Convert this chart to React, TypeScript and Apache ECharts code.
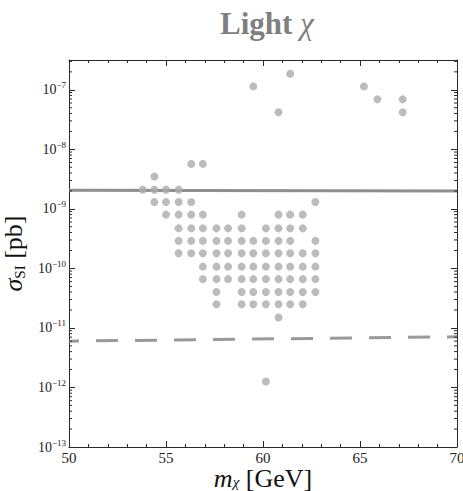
import React, { useEffect, useRef } from "react";
import * as echarts from "echarts";

// ---- Data ----
const xTicks = [50, 55, 60, 65, 70];
const yDecades = [-13, -12, -11, -10, -9, -8, -7];

// scatter points grouped by rows of equal sigma_SI [pb]
const rowSigma = [
  1.86e-7, 1.14e-7, 6.9e-8, 4.2e-8, 5.7e-9, 3.5e-9, 2.1e-9, 1.3e-9, 8.0e-10,
  4.7e-10, 2.9e-10, 1.8e-10, 1.07e-10, 6.6e-11, 4.0e-11, 2.5e-11, 1.5e-11,
  1.26e-12,
];
const rowMass = [
  [61.4],
  [59.5, 65.2],
  [65.9, 67.2],
  [60.8, 67.2],
  [56.3, 56.9],
  [54.4],
  [53.8, 54.4, 55.0, 55.65],
  [54.4, 55.0, 55.65, 56.3, 62.7],
  [55.0, 55.65, 56.3, 56.9, 58.9, 60.8, 61.4, 62.05],
  [55.65, 56.3, 56.9, 57.6, 58.2, 58.9, 60.15, 60.8, 61.4, 62.05],
  [55.65, 56.3, 56.9, 57.6, 58.2, 58.9, 59.5, 60.15, 60.8, 61.4, 62.7],
  [55.65, 56.3, 56.9, 57.6, 58.2, 58.9, 59.5, 60.15, 60.8, 61.4, 62.05, 62.7],
  [56.9, 57.6, 58.2, 58.9, 59.5, 60.15, 60.8, 61.4, 62.05, 62.7],
  [56.9, 57.6, 58.2, 58.9, 59.5, 60.15, 60.8, 61.4, 62.05, 62.7],
  [57.6, 58.9, 59.5, 60.15, 60.8, 61.4, 62.05, 62.7],
  [57.6, 58.9, 59.5, 60.15, 60.8, 61.4, 62.05],
  [60.8],
  [60.15],
];

// solid limit line and dashed line
const solidX = [50, 70];
const solidY = [2.05e-9, 2.0e-9];
const dashX = [50, 70];
const dashY = [6.0e-12, 7.1e-12];

const SERIF = "'Liberation Serif', 'DejaVu Serif', serif";
const AXIS_COLOR = "#2a2a2a";
const X_MIN = 50;
const X_MAX = 70;
const Y_MIN = -13;
const Y_MAX = -6.5;

export default function App() {
  const ref = useRef<HTMLDivElement | null>(null);

  useEffect(() => {
    document.body.style.margin = "0";
    if (!ref.current) return;
    const chart = echarts.init(ref.current, undefined, { renderer: "svg" });

    const points: number[][] = [];
    rowSigma.forEach((s, i) => {
      rowMass[i].forEach((m) => points.push([m, Math.log10(s)]));
    });

    const minorTicks: number[][] = [];
    for (let d = Y_MIN; d < Y_MAX; d++) {
      for (let k = 2; k <= 9; k++) {
        const lv = d + Math.log10(k);
        if (lv < Y_MAX) minorTicks.push([X_MIN, lv]);
      }
    }

    const yLabelRich = {
      b: { fontSize: 14, fontFamily: SERIF, color: "#222", lineHeight: 18 },
      s: { fontSize: 9, fontFamily: SERIF, color: "#222", lineHeight: 10, verticalAlign: "top" },
    };

    const xAxisBase = {
      type: "value",
      min: X_MIN,
      max: X_MAX,
      interval: 5,
      splitLine: { show: false },
      axisLine: { show: true, onZero: false, lineStyle: { color: AXIS_COLOR, width: 1 } },
      axisTick: { show: true, inside: true, length: 6, lineStyle: { color: AXIS_COLOR } },
      minorTick: { show: true, splitNumber: 5, length: 3, lineStyle: { color: AXIS_COLOR } },
    };
    const yAxisBase = {
      type: "value",
      min: Y_MIN,
      max: Y_MAX,
      interval: 1,
      splitLine: { show: false },
      axisLine: { show: true, onZero: false, lineStyle: { color: AXIS_COLOR, width: 1 } },
      axisTick: { show: true, inside: true, length: 6, lineStyle: { color: AXIS_COLOR } },
    };

    const option: any = {
      animation: false,
      title: {
        text: "{b|Light }{c|χ}",
        left: 215,
        top: 3,
        textStyle: {
          rich: {
            b: { fontSize: 31, fontWeight: "bold", fontFamily: SERIF, color: "#7f7f7f" },
            c: { fontSize: 31, fontWeight: "normal", fontStyle: "italic", fontFamily: SERIF, color: "#7f7f7f" },
          },
        },
      },
      grid: { left: 69, right: 6, top: 60, bottom: 44, containLabel: false, outerBoundsMode: "none" },
      xAxis: [
        {
          ...xAxisBase,
          position: "bottom",
          name: "{i|m}{sub|χ}{n| [GeV]}",
          nameLocation: "middle",
          nameGap: 20,
          nameMoveOverlap: false,
          nameTextStyle: {
            rich: {
              i: { fontSize: 26, fontStyle: "italic", fontFamily: SERIF, color: "#111", lineHeight: 22 },
              sub: { fontSize: 15, fontStyle: "italic", fontFamily: SERIF, color: "#111", verticalAlign: "bottom", lineHeight: 14 },
              n: { fontSize: 26, fontFamily: SERIF, color: "#111", lineHeight: 22 },
            },
          },
          axisLabel: {
            show: true,
            margin: 3,
            fontSize: 15,
            fontFamily: SERIF,
            color: "#222",
            formatter: (v: number) => (xTicks.includes(v) ? String(v) : ""),
          },
        },
        {
          ...xAxisBase,
          position: "top",
          axisLabel: { show: false },
        },
      ],
      yAxis: [
        {
          ...yAxisBase,
          position: "left",
          name: "{i|σ}{sub|SI}{n| [pb]}",
          nameLocation: "middle",
          nameRotate: 90,
          nameGap: 34,
          nameTextStyle: {
            rich: {
              i: { fontSize: 26, fontStyle: "italic", fontFamily: SERIF, color: "#111" },
              sub: { fontSize: 15, fontFamily: SERIF, color: "#111", verticalAlign: "bottom", lineHeight: 18 },
              n: { fontSize: 26, fontFamily: SERIF, color: "#111", lineHeight: 28 },
            },
          },
          axisLabel: {
            show: true,
            margin: 3,
            showMaxLabel: false,
            formatter: (v: number) =>
              Number.isInteger(v) && yDecades.includes(v) ? `{b|10}{s|−${-v}}` : "",
            rich: yLabelRich,
          },
        },
        {
          ...yAxisBase,
          position: "right",
          axisLabel: { show: false },
        },
      ],
      series: [
        {
          type: "line",
          xAxisIndex: 0,
          yAxisIndex: 0,
          data: solidX.map((x, i) => [x, Math.log10(solidY[i])]),
          symbol: "none",
          silent: true,
          lineStyle: { color: "#8e8e8e", width: 3 },
          z: 2,
        },
        {
          type: "line",
          xAxisIndex: 0,
          yAxisIndex: 0,
          data: dashX.map((x, i) => [x, Math.log10(dashY[i])]),
          symbol: "none",
          silent: true,
          lineStyle: { color: "#9a9a9a", width: 3, type: [22, 17], dashOffset: 12 },
          z: 2,
        },
        {
          type: "scatter",
          xAxisIndex: 0,
          yAxisIndex: 0,
          data: points,
          symbol: "circle",
          symbolSize: 8,
          silent: true,
          itemStyle: { color: "#ababab" },
          z: 3,
        },
        {
          type: "custom",
          xAxisIndex: 0,
          yAxisIndex: 0,
          silent: true,
          data: minorTicks,
          renderItem: (_params: any, api: any) => {
            const v = api.value(1);
            const pL = api.coord([X_MIN, v]);
            const pR = api.coord([X_MAX, v]);
            return {
              type: "group",
              children: [
                {
                  type: "line",
                  shape: { x1: pL[0], y1: pL[1], x2: pL[0] + 3, y2: pL[1] },
                  style: { stroke: AXIS_COLOR, lineWidth: 1 },
                },
                {
                  type: "line",
                  shape: { x1: pR[0], y1: pR[1], x2: pR[0] - 3, y2: pR[1] },
                  style: { stroke: AXIS_COLOR, lineWidth: 1 },
                },
              ],
            };
          },
          z: 4,
        },
      ],
    };

    chart.setOption(option);
    return () => chart.dispose();
  }, []);

  return <div ref={ref} style={{ width: 463, height: 491 }} />;
}
